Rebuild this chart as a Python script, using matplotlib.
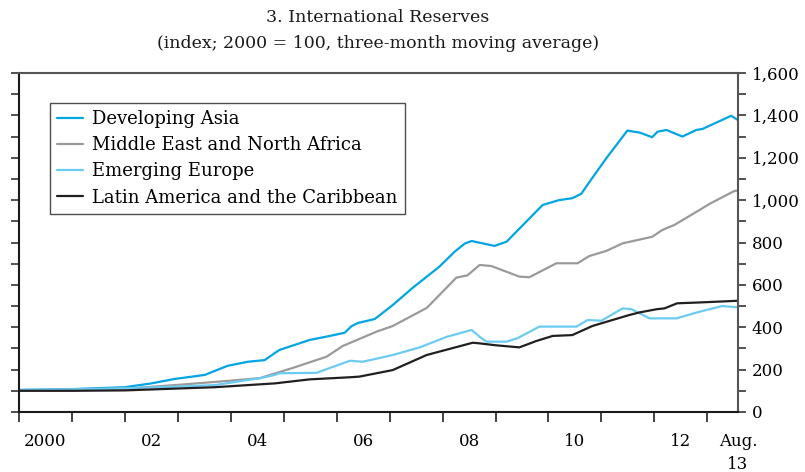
import matplotlib
matplotlib.use("Agg")
import matplotlib.pyplot as plt
from matplotlib.ticker import FixedLocator, FuncFormatter, NullFormatter

plt.rcParams["font.family"] = ["DejaVu Serif"]

# Index values (2000 = 100), three-month moving average, by fractional year
asia_t = [2000.0, 2001.0, 2002.0, 2002.5, 2002.94, 2003.51, 2003.94, 2004.32, 2004.64,
          2004.83, 2004.92, 2005.49, 2005.87, 2006.15, 2006.28, 2006.40, 2006.72, 2007.06,
          2007.43, 2007.94, 2008.23, 2008.42, 2008.55, 2008.98, 2009.21, 2009.89, 2010.20,
          2010.45, 2010.62, 2010.80, 2011.10, 2011.49, 2011.72, 2011.96, 2012.06, 2012.23,
          2012.53, 2012.79, 2012.91, 2013.45, 2013.58]
asia_v = [104, 108, 117, 135, 156, 175, 218, 237, 245,
          278, 293, 340, 359, 374, 405, 420, 439, 505,
          585, 686, 757, 795, 807, 784, 804, 977, 1000,
          1009, 1030, 1095, 1200, 1328, 1319, 1297, 1323, 1331,
          1300, 1331, 1336, 1398, 1378]

mena_t = [2000.0, 2001.0, 2002.0, 2003.0, 2004.0, 2004.55, 2005.17, 2005.81, 2006.11,
          2006.75, 2007.06, 2007.70, 2007.85, 2008.26, 2008.47, 2008.70, 2008.92, 2009.45,
          2009.64, 2010.15, 2010.55, 2010.77, 2011.09, 2011.40, 2011.96, 2012.15, 2012.38,
          2012.85, 2013.04, 2013.51, 2013.58]
mena_v = [103, 105, 110, 128, 148, 160, 208, 261, 311,
          379, 406, 491, 529, 634, 645, 694, 689, 639,
          636, 702, 702, 736, 760, 796, 827, 859, 883,
          953, 982, 1043, 1045]

europe_t = [2000.0, 2001.0, 2002.0, 2003.0, 2003.70, 2004.32, 2004.55, 2004.83, 2004.92,
            2005.62, 2006.25, 2006.49, 2007.06, 2007.57, 2008.08, 2008.55, 2008.70, 2008.83,
            2009.21, 2009.42, 2009.83, 2010.53, 2010.74, 2011.0, 2011.40, 2011.57, 2011.91,
            2012.42, 2012.85, 2013.28, 2013.58]
europe_v = [105, 107, 112, 120, 127, 151, 159, 175, 183,
            185, 242, 237, 269, 305, 355, 387, 355, 332,
            332, 349, 403, 403, 434, 431, 489, 485, 442,
            442, 473, 500, 494]

latam_t = [2000.0, 2001.0, 2002.0, 2003.70, 2004.64, 2004.83, 2005.49, 2006.25, 2006.43,
           2007.06, 2007.70, 2008.57, 2008.70, 2009.0, 2009.45, 2009.77, 2010.08, 2010.45,
           2010.83, 2011.53, 2011.72, 2012.04, 2012.19, 2012.43, 2012.85, 2013.58]
latam_v = [100, 100, 102, 117, 132, 135, 154, 164, 167,
           198, 269, 327, 324, 315, 305, 335, 359, 363,
           406, 458, 470, 485, 489, 513, 517, 525]

series_names = ["Developing Asia", "Middle East and North Africa",
                "Emerging Europe", "Latin America and the Caribbean"]
series_colors = ["#00a5e3", "#9a9a9a", "#6ccbf2", "#231f20"]

year_ticks = list(range(2000, 2014))
year_labels = ["2000", "02", "04", "06", "08", "10", "12"]
end_label = "Aug.\n13"
x_end = 2013.58

fig = plt.figure(figsize=(8.05, 4.72), dpi=100)
ax = fig.add_axes([19 / 805, 1 - 412 / 472, 719 / 805, 339 / 472])

data = [(asia_t, asia_v), (mena_t, mena_v), (europe_t, europe_v), (latam_t, latam_v)]
lines = []
for (t, v), name, col in zip(data, series_names, series_colors):
    ln, = ax.plot(t, v, color=col, lw=1.6, label=name,
                  solid_capstyle="round", solid_joinstyle="round")
    lines.append(ln)

ax.set_xlim(2000.0, x_end)
ax.set_ylim(0, 1600)

# y axis: ticks every 100 on both sides, labels every 200 on the right
ax.yaxis.set_major_locator(FixedLocator(list(range(0, 1601, 200))))
ax.yaxis.set_minor_locator(FixedLocator(list(range(100, 1600, 200))))
ax.yaxis.set_major_formatter(FuncFormatter(lambda v, p: f"{v:,.0f}"))
ax.yaxis.set_minor_formatter(NullFormatter())
ax.tick_params(axis="y", which="both", left=True, right=True, labelleft=False,
               labelright=True, direction="out", length=6, width=1.2,
               color="#333333", labelsize=12, pad=4)

# x axis: year boundary ticks, labels centred inside even years
ax.xaxis.set_major_locator(FixedLocator(year_ticks))
ax.xaxis.set_major_formatter(NullFormatter())
label_pos = [int("20" + s[-2:]) + 0.5 if s != "2000" else 2000.5 for s in year_labels]
ax.xaxis.set_minor_locator(FixedLocator(label_pos + [x_end]))
ax.xaxis.set_minor_formatter(FuncFormatter(
    lambda v, p: end_label if abs(v - x_end) < 1e-6 else year_labels[p]))
ax.tick_params(axis="x", which="major", direction="out", length=7, width=1.2,
               color="#222222")
ax.tick_params(axis="x", which="minor", length=0, labelsize=12, pad=15)
for lab in ax.xaxis.get_minorticklabels():
    lab.set_linespacing(1.45)

for side in ["left", "bottom"]:
    ax.spines[side].set_color("#1a1a1a")
    ax.spines[side].set_linewidth(1.5)
for side in ["right", "top"]:
    ax.spines[side].set_color("#555555")
    ax.spines[side].set_linewidth(1.5)

leg = ax.legend(handles=lines, loc="upper left",
                bbox_to_anchor=((50 - 19) / 719, (412 - 103) / 339),
                borderaxespad=0, fontsize=13, frameon=True, fancybox=False,
                edgecolor="#222222", handlelength=1.4, handletextpad=0.55,
                labelspacing=0.45, borderpad=0.4)
leg.get_frame().set_linewidth(1.0)

fig.text(378 / 805, 1 - 17 / 472, "3. International Reserves", ha="center",
         va="center", fontsize=12.5, color="#1a1a1a")
fig.text(378 / 805, 1 - 44 / 472, "(index; 2000 = 100, three-month moving average)",
         ha="center", va="center", fontsize=12.5, color="#1a1a1a")

fig.savefig("out.png", dpi=100)
